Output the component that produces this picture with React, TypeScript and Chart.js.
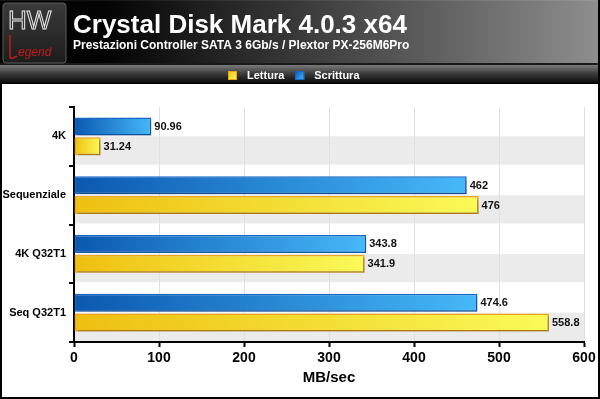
import React, { useEffect, useRef } from 'react';
import { Chart, registerables } from 'chart.js';

Chart.register(...registerables);

const categories = ['4K', 'Sequenziale', '4K Q32T1', 'Seq Q32T1'];
const scrittura = [90.96, 462, 343.8, 474.6];
const lettura = [31.24, 476, 341.9, 558.8];
const xTicks = [0, 100, 200, 300, 400, 500, 600];
const seriesNames = ['Scrittura', 'Lettura'];
const chartTitle = 'Crystal Disk Mark 4.0.3 x64';
const chartSubtitle = 'Prestazioni Controller SATA 3 6Gb/s / Plextor PX-256M6Pro';
const axisTitle = 'MB/sec';
const logoTop = 'HW';
const logoBottom = 'egend';

const FONT = '"Liberation Sans", Arial, sans-serif';

const BLUE = { dark: '#0b58b0', light: '#46b8f8', border: '#1468c8' };
const YELLOW = { dark: '#eebf10', light: '#fafa58', border: '#eda51a' };

function barGradient(c: { dark: string; light: string }) {
  return (ctx: any) => {
    const chart = ctx.chart;
    const xs = chart.scales && chart.scales.x;
    if (!xs || ctx.type !== 'data') return c.dark;
    const x0 = xs.getPixelForValue(0);
    const x1 = xs.getPixelForValue(ctx.raw as number);
    if (!isFinite(x0) || !isFinite(x1) || x1 - x0 < 1) return c.dark;
    const g = chart.ctx.createLinearGradient(x0, 0, x1, 0);
    g.addColorStop(0, c.dark);
    g.addColorStop(1, c.light);
    return g;
  };
}

const framePlugin = {
  id: 'frame',
  beforeDraw(chart: any) {
    const { ctx, width, height, chartArea } = chart;
    ctx.save();
    ctx.fillStyle = '#ffffff';
    ctx.fillRect(0, 0, width, height);

    // header
    const hg = ctx.createLinearGradient(0, 0, width, 0);
    hg.addColorStop(0, '#000000');
    hg.addColorStop(0.18, '#040404');
    hg.addColorStop(1, '#8e8e8e');
    ctx.fillStyle = hg;
    ctx.fillRect(0, 0, width, 63);
    ctx.fillStyle = 'rgba(255,255,255,0.08)';
    ctx.fillRect(0, 0, width, 1);
    ctx.fillStyle = '#1a1a1a';
    ctx.fillRect(0, 63, width, 2);

    // legend bar
    const lg = ctx.createLinearGradient(0, 65, 0, 84);
    lg.addColorStop(0, '#7a7a7a');
    lg.addColorStop(0.45, '#3c3c3c');
    lg.addColorStop(1, '#050505');
    ctx.fillStyle = lg;
    ctx.fillRect(0, 65, width, 18);
    ctx.fillStyle = '#000';
    ctx.fillRect(0, 83, width, 1);

    // logo
    const lx = 3, ly = 3, lw = 63, lh = 60, r = 3;
    const logoG = ctx.createLinearGradient(0, ly, 0, ly + lh);
    logoG.addColorStop(0, '#3a3a3a');
    logoG.addColorStop(1, '#1c1c1c');
    ctx.beginPath();
    ctx.moveTo(lx + r, ly);
    ctx.lineTo(lx + lw - r, ly);
    ctx.quadraticCurveTo(lx + lw, ly, lx + lw, ly + r);
    ctx.lineTo(lx + lw, ly + lh - r);
    ctx.quadraticCurveTo(lx + lw, ly + lh, lx + lw - r, ly + lh);
    ctx.lineTo(lx + r, ly + lh);
    ctx.quadraticCurveTo(lx, ly + lh, lx, ly + lh - r);
    ctx.lineTo(lx, ly + r);
    ctx.quadraticCurveTo(lx, ly, lx + r, ly);
    ctx.fillStyle = logoG;
    ctx.fill();
    ctx.strokeStyle = '#5a5a5a';
    ctx.lineWidth = 1;
    ctx.stroke();

    ctx.textAlign = 'left';
    ctx.textBaseline = 'alphabetic';
    ctx.font = `26px ${FONT}`;
    ctx.strokeStyle = '#e8e8e8';
    ctx.lineWidth = 1;
    ctx.strokeText(logoTop, 8, 29);
    // L
    ctx.strokeStyle = '#c41818';
    ctx.lineWidth = 1.5;
    ctx.beginPath();
    ctx.moveTo(10, 35);
    ctx.lineTo(10, 57);
    ctx.quadraticCurveTo(10, 59, 13, 58);
    ctx.lineTo(17, 56);
    ctx.stroke();
    ctx.fillStyle = '#c41818';
    ctx.font = `italic 12px ${FONT}`;
    ctx.fillText(logoBottom, 18, 56);

    // titles
    ctx.fillStyle = '#ffffff';
    ctx.font = `bold 26px ${FONT}`;
    ctx.fillText(chartTitle, 73, 33);
    ctx.font = `bold 12px ${FONT}`;
    ctx.fillText(chartSubtitle, 73, 49);

    // legend items (Lettura first)
    const items = [
      { name: seriesNames[1], c: YELLOW },
      { name: seriesNames[0], c: BLUE },
    ];
    let x = 228;
    ctx.font = `bold 11px ${FONT}`;
    ctx.textBaseline = 'middle';
    for (const it of items) {
      const bg = ctx.createLinearGradient(x, 71, x + 9, 80);
      bg.addColorStop(0, it.c.dark);
      bg.addColorStop(1, it.c.light);
      ctx.fillStyle = bg;
      ctx.fillRect(x, 71, 9, 9);
      ctx.strokeStyle = it.c.border;
      ctx.lineWidth = 1;
      ctx.strokeRect(x + 0.5, 71.5, 8, 8);
      ctx.fillStyle = '#ffffff';
      ctx.fillText(it.name, x + 19, 75.5);
      x += 19 + ctx.measureText(it.name).width + 11;
    }

    // alternating stripes (lower half of each category band)
    const ys = chart.scales.y;
    if (ys && chartArea) {
      ctx.fillStyle = '#ebebeb';
      const band = Math.abs(ys.getPixelForValue(1) - ys.getPixelForValue(0));
      categories.forEach((_, i) => {
        const yc = ys.getPixelForValue(i);
        ctx.fillRect(chartArea.left, yc, chartArea.right - chartArea.left, band / 2 - 1);
      });
    }
    ctx.restore();
  },
  beforeDatasetsDraw(chart: any) {
    const ctx = chart.ctx;
    ctx.save();
    ctx.shadowColor = 'rgba(0,0,0,0.28)';
    ctx.shadowOffsetX = 1.5;
    ctx.shadowOffsetY = 2;
    ctx.shadowBlur = 2;
  },
  afterDatasetsDraw(chart: any) {
    const ctx = chart.ctx;
    ctx.restore();
    ctx.save();
    ctx.font = `bold 11px ${FONT}`;
    ctx.fillStyle = '#111111';
    ctx.textAlign = 'left';
    ctx.textBaseline = 'middle';
    chart.data.datasets.forEach((ds: any, di: number) => {
      const meta = chart.getDatasetMeta(di);
      meta.data.forEach((el: any, i: number) => {
        ctx.fillText(String(ds.data[i]), el.x + 3, el.y + 0.5);
      });
    });
    ctx.restore();
  },
  afterDraw(chart: any) {
    const { ctx, width, height } = chart;
    ctx.save();
    ctx.fillStyle = '#000';
    ctx.fillRect(0, 84, 2, height - 84);
    ctx.fillRect(width - 2, 0, 2, height);
    ctx.fillRect(0, height - 2, width, 2);
    ctx.restore();
  },
};

export default function App() {
  const ref = useRef<HTMLCanvasElement | null>(null);
  useEffect(() => {
    if (!ref.current) return;
    Chart.defaults.font.family = FONT;
    const chart = new Chart(ref.current, {
      type: 'bar',
      data: {
        labels: categories,
        datasets: [
          {
            label: seriesNames[0],
            data: scrittura,
            backgroundColor: barGradient(BLUE) as any,
            borderColor: BLUE.border,
            borderWidth: 1.5,
            borderSkipped: false,
            categoryPercentage: 0.68,
            barPercentage: 0.9,
          },
          {
            label: seriesNames[1],
            data: lettura,
            backgroundColor: barGradient(YELLOW) as any,
            borderColor: YELLOW.border,
            borderWidth: 1.5,
            borderSkipped: false,
            categoryPercentage: 0.68,
            barPercentage: 0.9,
          },
        ],
      },
      options: {
        indexAxis: 'y',
        responsive: false,
        animation: false,
        devicePixelRatio: 1,
        layout: { padding: { top: 107, right: 16, left: 0, bottom: 0 } },
        plugins: {
          legend: { display: false },
          tooltip: { enabled: false },
        },
        scales: {
          x: {
            min: 0,
            max: 600,
            afterBuildTicks: (s: any) => {
              s.ticks = xTicks.map((v) => ({ value: v }));
            },
            afterFit: (s: any) => {
              s.height = 57;
            },
            ticks: {
              color: '#000',
              font: { size: 14, weight: 'bold' },
              padding: 3,
              maxRotation: 0,
              autoSkip: false,
            },
            grid: {
              color: '#e0e0e0',
              lineWidth: 1,
              tickColor: '#000',
              tickLength: 5,
              tickWidth: 2,
            },
            border: { color: '#000', width: 2 },
            title: {
              display: true,
              text: axisTitle,
              color: '#000',
              font: { size: 15, weight: 'bold' },
              padding: { top: 2, bottom: 12 },
            },
          },
          y: {
            afterFit: (s: any) => {
              s.width = 74;
            },
            ticks: {
              color: '#000',
              font: { size: 11, weight: 'bold' },
              padding: 3,
            },
            grid: {
              drawOnChartArea: false,
              color: '#000',
              lineWidth: 2,
              tickLength: 5,
              offset: true,
            },
            border: { color: '#000', width: 2 },
          },
        },
      },
      plugins: [framePlugin],
    } as any);
    return () => chart.destroy();
  }, []);
  return (
    <div style={{ position: 'absolute', left: 0, top: 0, width: 600, height: 399 }}>
      <canvas ref={ref} width={600} height={399} style={{ display: 'block' }} />
    </div>
  );
}
